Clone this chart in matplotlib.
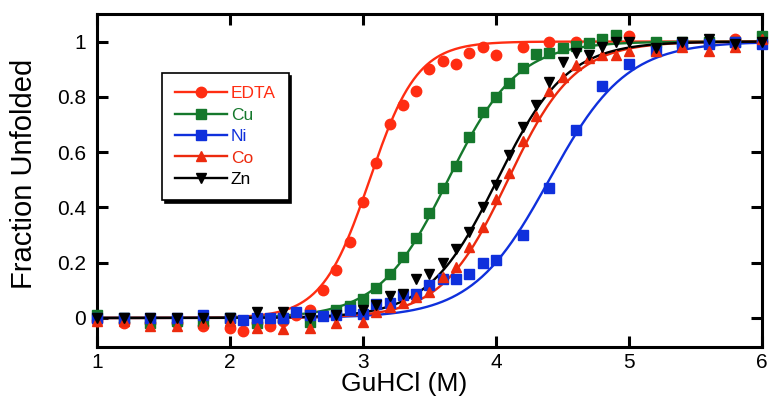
import numpy as np
import matplotlib
matplotlib.use("Agg")
import matplotlib.pyplot as plt
from matplotlib.ticker import FormatStrFormatter

plt.rcParams['font.family'] = ['Liberation Sans', 'DejaVu Sans']

# GuHCl concentration (M) and fraction unfolded
edta_x = [1.0, 1.2, 1.4, 1.6, 1.8, 2.0, 2.1, 2.2, 2.3, 2.4, 2.5, 2.6, 2.7, 2.8, 2.9,
          3.0, 3.1, 3.2, 3.3, 3.4, 3.5, 3.6, 3.7, 3.8, 3.9, 4.0, 4.2, 4.4, 4.6, 5.0, 5.8, 6.0]
edta_y = [-0.01, -0.02, -0.02, -0.02, -0.03, -0.035, -0.047, -0.02, -0.03, -0.01, 0.01, 0.03, 0.10, 0.175, 0.275,
          0.42, 0.56, 0.70, 0.77, 0.82, 0.90, 0.93, 0.92, 0.96, 0.98, 0.95, 0.98, 1.0, 1.0, 1.02, 1.01, 1.0]

cu_x = [1.0, 1.2, 1.4, 1.6, 1.8, 2.0, 2.2, 2.4, 2.6, 2.8, 2.9,
        3.0, 3.1, 3.2, 3.3, 3.4, 3.5, 3.6, 3.7, 3.8, 3.9, 4.0, 4.1, 4.2, 4.3, 4.4, 4.5, 4.6, 4.7, 4.8, 4.9,
        5.2, 5.4, 5.6, 5.8, 6.0]
cu_y = [0.01, 0.0, -0.02, -0.01, -0.01, 0.0, -0.02, 0.0, -0.015, 0.03, 0.045,
        0.07, 0.11, 0.16, 0.22, 0.29, 0.38, 0.47, 0.55, 0.655, 0.745, 0.80, 0.85, 0.905, 0.955, 0.96, 0.975, 0.985, 0.995, 1.01, 1.025,
        1.0, 1.0, 1.0, 1.0, 1.02]

ni_x = [1.0, 1.2, 1.4, 1.6, 1.8, 2.0, 2.1, 2.2, 2.3, 2.4, 2.5, 2.6, 2.7, 2.8, 2.9,
        3.0, 3.1, 3.2, 3.3, 3.4, 3.5, 3.6, 3.7, 3.8, 3.9, 4.0, 4.2, 4.4, 4.6, 4.8, 5.0,
        5.2, 5.4, 5.6, 5.8, 6.0]
ni_y = [0.0, 0.0, 0.0, 0.0, 0.01, 0.0, -0.007, 0.0, 0.0, 0.0, 0.02, 0.01, 0.007, 0.01, 0.03,
        0.015, 0.05, 0.054, 0.083, 0.087, 0.12, 0.14, 0.14, 0.16, 0.20, 0.21, 0.30, 0.47, 0.68, 0.84, 0.92,
        0.965, 0.99, 0.99, 1.0, 0.99]

co_x = [1.0, 1.2, 1.4, 1.6, 1.8, 2.0, 2.2, 2.4, 2.6, 2.8,
        3.0, 3.1, 3.2, 3.3, 3.4, 3.5, 3.6, 3.7, 3.8, 3.9, 4.0, 4.1, 4.2, 4.3, 4.4, 4.5, 4.6, 4.7, 4.8, 4.9,
        5.0, 5.2, 5.4, 5.6, 5.8, 6.0]
co_y = [-0.01, -0.01, -0.03, -0.03, -0.02, -0.01, -0.035, -0.04, -0.035, -0.02,
        -0.015, 0.02, 0.04, 0.054, 0.076, 0.094, 0.148, 0.185, 0.257, 0.33, 0.43, 0.525, 0.64, 0.73, 0.82, 0.87, 0.915, 0.94, 0.95, 0.95,
        0.965, 0.965, 0.98, 0.965, 0.98, 1.01]

zn_x = [1.0, 1.2, 1.4, 1.6, 1.8, 2.0, 2.2, 2.4, 2.6, 2.8,
        3.0, 3.1, 3.2, 3.3, 3.4, 3.5, 3.6, 3.7, 3.8, 3.9, 4.0, 4.1, 4.2, 4.3, 4.4, 4.5, 4.6, 4.7, 4.8, 4.9,
        5.0, 5.2, 5.4, 5.6, 5.8, 6.0]
zn_y = [0.0, 0.0, 0.0, 0.0, 0.0, 0.0, 0.02, 0.02, 0.0, 0.01,
        0.03, 0.047, 0.08, 0.087, 0.14, 0.16, 0.20, 0.25, 0.31, 0.40, 0.48, 0.59, 0.69, 0.77, 0.855, 0.925, 0.96, 0.95, 0.98, 1.0,
        1.0, 0.975, 1.0, 1.01, 0.99, 1.0]

# two-state fit: midpoint (M) and transition width (M)
labels = ['EDTA', 'Cu', 'Ni', 'Co', 'Zn']
fit_mid = [3.05, 3.64, 4.40, 4.09, 4.01]
fit_width = [0.18, 0.26, 0.29, 0.25, 0.26]

colors = ['#ff2d12', '#15782c', '#0f30dc', '#ec2a0e', '#000000']
markers = ['o', 's', 's', '^', 'v']
xs = [edta_x, cu_x, ni_x, co_x, zn_x]
ys = [edta_y, cu_y, ni_y, co_y, zn_y]

fig = plt.figure(figsize=(7.69, 3.97), dpi=100)
ax = fig.add_axes([0.126, 0.126, 0.865, 0.839])

xx = np.linspace(1, 6, 400)
for i in range(len(labels)):
    fit = 1.0 / (1.0 + np.exp(-(xx - fit_mid[i]) / fit_width[i]))
    ax.plot(xx, fit, color=colors[i], lw=1.7, zorder=2)
    ax.plot(xs[i], ys[i], ls='none', marker=markers[i], ms=7.5, color=colors[i],
            mec=colors[i], clip_on=False, zorder=3)
    # legend proxy: line with marker
    ax.plot([], [], color=colors[i], lw=1.7, marker=markers[i], ms=7.5, label=labels[i])

ax.set_xlim(1, 6)
ax.set_ylim(-0.105, 1.1)
ax.set_xticks([1, 2, 3, 4, 5, 6])
ax.set_yticks([0, 0.2, 0.4, 0.6, 0.8, 1.0])
ax.yaxis.set_major_formatter(FormatStrFormatter('%g'))
ax.tick_params(direction='in', length=8, width=2.2, labelsize=15, top=True, right=True, pad=8)
ax.tick_params(axis='x', pad=4)
for sp in ax.spines.values():
    sp.set_linewidth(2.2)

ax.set_xlabel('GuHCl (M)', fontsize=19)
ax.xaxis.set_label_coords(0.462, -0.075)
ax.xaxis.label.set_va('top')
ax.set_ylabel('Fraction Unfolded', fontsize=21)
ax.yaxis.set_label_coords(-0.088, 0.52)

leg = ax.legend(loc='upper left', bbox_to_anchor=(0.098, 0.822), fontsize=12.5,
                frameon=True, fancybox=False, edgecolor='black', framealpha=1,
                shadow={'color': 'black', 'alpha': 1, 'ox': 2, 'oy': -2},
                handlelength=3.0, labelspacing=0.36, borderpad=0.75, handletextpad=0.2,
                borderaxespad=0, labelcolor='linecolor')
leg.get_frame().set_linewidth(1.2)

fig.savefig('out.png', dpi=100)
